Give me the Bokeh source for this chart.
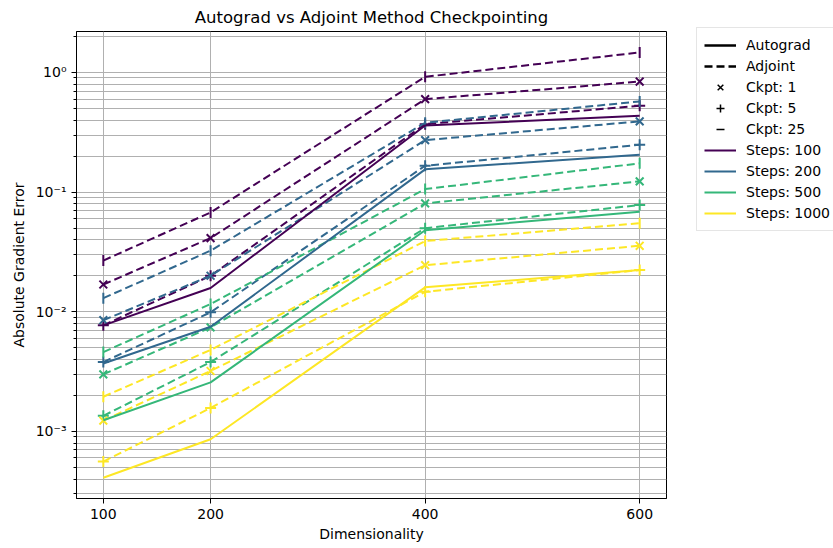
import math
from bokeh.plotting import figure
from bokeh.models import FixedTicker, Legend, LegendItem, Range1d
from bokeh.embed import file_html
from bokeh.resources import INLINE

# ---------------- data ----------------
dims = [100, 200, 400, 600]
steps_labels = ["Steps: 100", "Steps: 200", "Steps: 500", "Steps: 1000"]
ckpt_labels = ["Ckpt: 1", "Ckpt: 5", "Ckpt: 25"]
colors = ["#440154", "#31688e", "#35b779", "#fde725"]

# Autograd (solid)
autograd_s100 = [7.7e-3, 0.0158, 0.36, 0.435]
autograd_s200 = [3.7e-3, 7.5e-3, 0.155, 0.205]
autograd_s500 = [1.24e-3, 2.57e-3, 0.048, 0.0686]
autograd_s1000 = [4.1e-4, 8.6e-4, 0.016, 0.0223]

# Adjoint (dashed), per steps and checkpoint count
adjoint_s100_c1 = [0.0169, 0.0413, 0.598, 0.84]
adjoint_s100_c5 = [7.7e-3, 0.0200, 0.37, 0.527]
adjoint_s100_c25 = [0.0268, 0.0676, 0.92, 1.47]
adjoint_s200_c1 = [8.5e-3, 0.0200, 0.272, 0.39]
adjoint_s200_c5 = [3.8e-3, 9.9e-3, 0.166, 0.249]
adjoint_s200_c25 = [0.0130, 0.0324, 0.38, 0.573]
adjoint_s500_c1 = [3.0e-3, 7.4e-3, 0.0805, 0.123]
adjoint_s500_c5 = [1.35e-3, 3.8e-3, 0.050, 0.078]
adjoint_s500_c25 = [4.6e-3, 0.0116, 0.106, 0.174]
adjoint_s1000_c1 = [1.23e-3, 3.2e-3, 0.0245, 0.0356]
adjoint_s1000_c5 = [5.6e-4, 1.57e-3, 0.0147, 0.0223]
adjoint_s1000_c25 = [1.95e-3, 4.8e-3, 0.039, 0.055]

y_major = [1e-3, 1e-2, 1e-1, 1.0]
y_major_labels = ["10⁻³", "10⁻²", "10⁻¹", "10⁰"]

autograd = [autograd_s100, autograd_s200, autograd_s500, autograd_s1000]
adjoint = [
    [adjoint_s100_c1, adjoint_s100_c5, adjoint_s100_c25],
    [adjoint_s200_c1, adjoint_s200_c5, adjoint_s200_c25],
    [adjoint_s500_c1, adjoint_s500_c5, adjoint_s500_c25],
    [adjoint_s1000_c1, adjoint_s1000_c5, adjoint_s1000_c25],
]
markers = [("x", 0.0), ("cross", 0.0), ("dash", math.pi / 2)]

FONT = "DejaVu Sans"

p = figure(
    frame_width=590, frame_height=467,
    y_axis_type="log",
    x_range=Range1d(75, 625), y_range=Range1d(2.75e-4, 2.2),
    output_backend="svg", toolbar_location=None,
    min_border_left=76, min_border_top=25, min_border_bottom=44, min_border_right=166,
    title="Autograd vs Adjoint Method Checkpointing",
    background_fill_color="white", border_fill_color="white",
)
p.title.align = "center"
p.title.text_font = FONT
p.title.text_font_size = "16.5px"
p.title.text_font_style = "normal"
p.title.text_color = "black"

minor = []
for e in range(-4, 1):
    for k in range(2, 10):
        v = k * 10.0 ** e
        if 2.75e-4 <= v <= 2.2:
            minor.append(v)

p.xaxis.ticker = FixedTicker(ticks=dims, minor_ticks=[])
p.yaxis.ticker = FixedTicker(ticks=y_major, minor_ticks=minor)
p.yaxis.major_label_overrides = {v: s for v, s in zip(y_major, y_major_labels)}
p.xgrid.ticker = FixedTicker(ticks=dims, minor_ticks=[])
p.ygrid.ticker = FixedTicker(ticks=y_major, minor_ticks=minor)

for ax in (p.xaxis[0], p.yaxis[0]):
    ax.axis_line_color = "black"
    ax.major_tick_line_color = "black"
    ax.minor_tick_line_color = "black"
    ax.major_tick_out = 5
    ax.major_tick_in = 0
    ax.minor_tick_out = 3
    ax.minor_tick_in = 0
    ax.major_label_text_font = FONT
    ax.major_label_text_font_size = "14px"
    ax.major_label_text_color = "black"
    ax.axis_label_text_font = FONT
    ax.axis_label_text_font_size = "14px"
    ax.axis_label_text_font_style = "normal"
    ax.axis_label_text_color = "black"
p.xaxis.axis_label = "Dimensionality"
p.yaxis.axis_label = "Absolute Gradient Error"
p.xaxis.axis_label_standoff = 4
p.yaxis.axis_label_standoff = 6

p.xgrid.grid_line_color = "#b0b0b0"
p.ygrid.grid_line_color = "#b0b0b0"
p.ygrid.minor_grid_line_color = "#b0b0b0"
p.outline_line_color = "black"
p.outline_line_width = 1

# Adjoint dashed lines with markers
for si, color in enumerate(colors):
    for ci, (mk, ang) in enumerate(markers):
        ys = adjoint[si][ci]
        p.line(dims, ys, line_color=color, line_width=2, line_dash="8 4")
        p.scatter(dims, ys, marker=mk, angle=ang, size=11, line_color=color, line_width=2)
# Autograd solid lines
for si, color in enumerate(colors):
    p.line(dims, autograd[si], line_color=color, line_width=2)

# Legend proxies (placed outside the visible x range, so only the legend shows them)
px, py = [-1000.0], [1.0]
r_auto = p.line(px, py, line_color="black", line_width=2.5)
r_adj = p.line(px, py, line_color="black", line_width=2.5, line_dash="8 4")
r_ck = [p.scatter(px, py, marker=mk, angle=ang, size=10, line_color="black", line_width=1.5)
        for mk, ang in markers]
r_steps = [p.line(px, py, line_color=c, line_width=2) for c in colors]

items = [LegendItem(label="Autograd", renderers=[r_auto]),
         LegendItem(label="Adjoint", renderers=[r_adj])]
items += [LegendItem(label=l, renderers=[r]) for l, r in zip(ckpt_labels, r_ck)]
items += [LegendItem(label=l, renderers=[r]) for l, r in zip(steps_labels, r_steps)]

legend = Legend(items=items, location=(30, 267))
legend.margin = 0
legend.label_text_font = FONT
legend.label_text_font_size = "14px"
legend.label_text_color = "black"
legend.label_height = 20
legend.glyph_height = 20
legend.glyph_width = 32
legend.spacing = 1
legend.padding = 7
legend.label_standoff = 10
legend.border_line_color = "#cccccc"
legend.border_line_width = 1
legend.background_fill_alpha = 1.0
p.add_layout(legend, "right")

open("out.html", "w").write(file_html(p, INLINE))
